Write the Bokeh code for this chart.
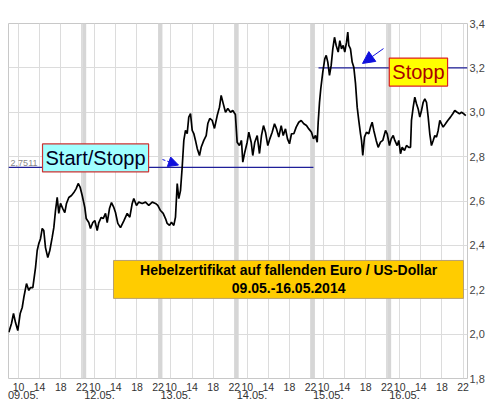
from bokeh.plotting import figure
from bokeh.models import (FixedTicker, Span, Label, Arrow, NormalHead, LinearAxis,
                          ColumnDataSource, Range1d)
from bokeh.embed import file_html
from bokeh.resources import INLINE

# ---- data (time axis: trading hours since 09.05. ~08:00, one day spans DAY units) ----
day_labels = ["09.05.", "12.05.", "13.05.", "14.05.", "15.05.", "16.05."]
hour_ticks = [10, 14, 18, 22]
y_ticks = [1.8, 2.0, 2.2, 2.4, 2.6, 2.8, 3.0, 3.2, 3.4]
y_tick_labels = ["1,8", "2,0", "2,2", "2,4", "2,6", "2,8", "3,0", "3,2", "3,4"]

t_hours = [0.06, 0.57, 0.95, 1.33, 1.76, 2.22, 2.60, 2.90, 3.41, 3.85, 4.17, 4.61, 5.12, 5.44,
           5.74, 6.07, 6.39, 6.69, 7.01, 7.45, 7.83, 8.28, 8.59, 8.91, 9.23, 9.53, 9.86, 10.29,
           10.67, 10.99, 11.43, 11.94, 12.38, 12.83, 13.21, 13.59, 13.97, 14.46, 14.73, 15.22,
           15.54, 15.98, 16.36, 16.81, 17.12, 17.57, 17.95, 18.39, 18.71, 19.14, 19.52, 19.96,
           20.28, 20.72, 21.23, 21.86, 22.50, 22.99, 23.45, 23.75, 24.26, 24.70, 25.34, 25.97,
           26.59, 27.24, 27.86, 28.30, 28.81, 29.32, 29.76, 30.08, 30.52, 30.89, 31.33, 31.65,
           31.98, 32.28, 32.60, 32.92, 33.23, 33.55, 33.87, 34.17, 34.50, 34.82, 35.12, 35.44,
           35.77, 36.20, 36.52, 37.02, 37.47, 37.78, 38.15, 38.61, 39.04, 39.56, 39.99, 40.31,
           40.69, 41.13, 41.57, 42.08, 42.51, 43.00, 43.34, 43.77, 44.16, 44.41, 44.79, 45.24,
           45.55, 46.00, 46.30, 46.68, 47.14, 47.57, 47.95, 48.33, 48.71, 49.15, 49.53, 49.98,
           50.42, 50.80, 51.23, 51.69, 52.07, 52.50, 52.88, 53.26, 53.64, 54.08, 54.53, 55.02,
           55.48, 55.97, 56.48, 56.92, 57.43, 57.81, 58.19, 58.51, 58.70, 58.95, 59.19, 59.57,
           59.95, 60.22, 60.52, 60.84, 61.16, 61.47, 61.79, 62.11, 62.49, 62.80, 63.12, 63.44,
           63.74, 64.07, 64.31, 64.50, 64.82, 65.14, 65.45, 65.77, 66.09, 66.39, 66.72, 66.91,
           67.15, 67.47, 67.85, 68.29, 68.61, 68.93, 69.24, 69.69, 70.07, 70.51, 70.94, 71.46,
           71.78, 72.21, 72.54, 72.92, 73.22, 73.67, 73.98, 74.30, 74.62, 75.06, 75.44, 75.87,
           76.20, 76.38, 76.71, 77.01, 77.33, 77.65, 77.96, 78.28, 78.60, 78.91, 79.23, 79.55,
           79.85, 80.17, 80.50, 80.80, 81.12, 81.44, 81.75, 82.07, 82.39, 82.83, 83.26, 83.77,
           84.21, 84.59, 85.04, 85.48, 85.86, 86.30, 86.68]

price = [2.009, 2.048, 2.093, 2.052, 2.016, 2.093, 2.120, 2.165, 2.228, 2.197, 2.210, 2.210, 2.300,
         2.377, 2.408, 2.430, 2.476, 2.467, 2.390, 2.345, 2.377, 2.436, 2.480, 2.557, 2.616, 2.544,
         2.589, 2.566, 2.548, 2.589, 2.616, 2.625, 2.638, 2.656, 2.679, 2.661, 2.625, 2.571, 2.521,
         2.503, 2.476, 2.503, 2.512, 2.467, 2.503, 2.526, 2.521, 2.544, 2.503, 2.566, 2.593, 2.571,
         2.548, 2.499, 2.480, 2.510, 2.544, 2.527, 2.589, 2.611, 2.580, 2.595, 2.589, 2.595, 2.580,
         2.595, 2.589, 2.580, 2.557, 2.544, 2.521, 2.499, 2.490, 2.504, 2.490, 2.527, 2.679, 2.611,
         2.647, 2.752, 2.873, 2.918, 2.904, 2.978, 2.994, 2.918, 2.904, 2.873, 2.837, 2.805, 2.842,
         2.873, 2.895, 2.949, 2.972, 2.963, 2.927, 2.985, 3.023, 3.076, 3.040, 3.000, 3.017, 3.000,
         3.008, 2.990, 2.865, 2.850, 2.873, 2.775, 2.820, 2.865, 2.910, 2.865, 2.805, 2.865, 2.895,
         2.814, 2.895, 2.940, 2.910, 2.850, 2.880, 2.910, 2.948, 2.925, 2.888, 2.940, 2.895, 2.925,
         2.880, 2.858, 2.903, 2.903, 2.933, 2.955, 2.963, 2.948, 2.940, 2.925, 2.910, 2.880, 2.895,
         2.865, 2.955, 3.045, 3.106, 3.181, 3.241, 3.256, 3.226, 3.166, 3.211, 3.286, 3.338, 3.301,
         3.271, 3.323, 3.286, 3.301, 3.271, 3.316, 3.361, 3.301, 3.286, 3.226, 3.203, 3.130, 3.023,
         2.963, 2.903, 2.873, 2.805, 2.888, 2.910, 2.903, 2.933, 2.955, 2.918, 2.873, 2.842, 2.865,
         2.873, 2.918, 2.903, 2.850, 2.880, 2.895, 2.873, 2.850, 2.873, 2.813, 2.842, 2.828, 2.850,
         2.842, 2.842, 2.963, 3.023, 3.068, 3.038, 3.015, 2.978, 3.008, 3.045, 3.060, 3.045, 2.978,
         2.903, 2.850, 2.873, 2.895, 2.888, 2.918, 2.963, 2.948, 2.933, 2.948, 2.963, 2.978, 2.993,
         3.008, 3.000, 2.993, 3.000, 2.993, 2.985]

start_stop_level = 2.7511
start_stop_label = "2,7511"
stop_level = 3.2
start_stop_until = 57.8
stop_from = 58.76

title_lines = ["Hebelzertifikat auf fallenden Euro / US-Dollar", "09.05.-16.05.2014"]

DAY = 14.45
DAY_START_HOUR = 8.1
X_END = 87.0
FONT = "Liberation Sans"

tick_pos = []
tick_over = {}
for d in range(len(day_labels)):
    for h in hour_ticks:
        t = d * DAY + (h - DAY_START_HOUR)
        tick_pos.append(t)
        tick_over[t] = str(h)

date_pos = [d * DAY + (10 - DAY_START_HOUR) + 0.9 for d in range(len(day_labels))]
date_over = {t: lab for t, lab in zip(date_pos, day_labels)}

p = figure(width=491, height=407, output_backend="svg", toolbar_location=None,
           x_range=Range1d(0, X_END), y_range=Range1d(1.8, 3.4),
           y_axis_location="right", min_border_left=8, min_border_top=23,
           min_border_right=24, min_border_bottom=29)
p.background_fill_color = "white"
p.border_fill_color = "white"
p.outline_line_color = "#c8c8c8"

def style_axis(ax, standoff, color, size):
    ax.axis_line_color = None
    ax.major_tick_line_color = None
    ax.minor_tick_line_color = None
    ax.major_tick_out = 0
    ax.major_tick_in = 0
    ax.minor_tick_out = 0
    ax.minor_tick_in = 0
    ax.major_label_standoff = standoff
    ax.major_label_text_font = FONT
    ax.major_label_text_font_size = size
    ax.major_label_text_color = color

# x axis: hours
p.xaxis.ticker = FixedTicker(ticks=tick_pos)
p.xaxis.major_label_overrides = tick_over
style_axis(p.xaxis[0], 4, "#333333", "10.5px")

# second x axis: dates
date_axis = LinearAxis(ticker=FixedTicker(ticks=date_pos), major_label_overrides=date_over)
style_axis(date_axis, -3, "#333333", "11px")
p.add_layout(date_axis, "below")

# y axis (right)
p.yaxis.ticker = FixedTicker(ticks=y_ticks)
p.yaxis.major_label_overrides = {v: s for v, s in zip(y_ticks, y_tick_labels)}
style_axis(p.yaxis[0], 2, "#444444", "11px")

p.xgrid.grid_line_color = "#dcdcdc"
p.ygrid.grid_line_color = "#dcdcdc"

# day separators
for d in range(1, len(day_labels)):
    p.add_layout(Span(location=d * DAY - 0.1, dimension="height",
                      line_color="#d6d6d6", line_width=4, level="underlay"))

# level lines
p.line(x=[0, start_stop_until], y=[start_stop_level, start_stop_level],
       line_color="#1f1f99", line_width=1.2)
p.line(x=[stop_from, X_END], y=[stop_level, stop_level], line_color="#1f1f99", line_width=1.2)

# price line
src = ColumnDataSource(dict(t=t_hours, v=price))
p.line("t", "v", source=src, line_color="black", line_width=1.7)

# title box
p.quad(left=[19.9], right=[86.24], bottom=[2.161], top=[2.332],
       fill_color="#ffcc00", line_color="#b8a070", line_width=1)
p.add_layout(Label(x=53.1, y=2.287, text=title_lines[0],
                   text_align="center", text_baseline="middle", text_font=FONT,
                   text_font_size="14px", text_font_style="bold", text_color="black"))
p.add_layout(Label(x=53.1, y=2.210, text=title_lines[1],
                   text_align="center", text_baseline="middle", text_font=FONT,
                   text_font_size="14px", text_font_style="bold", text_color="black"))

p.add_layout(Label(x=0.4, y=start_stop_level + 0.006, text=start_stop_label,
                   text_align="left", text_baseline="bottom", text_font=FONT,
                   text_font_size="9px", text_color="#888888"))

# annotation boxes
p.add_layout(Label(x=16.5, y=2.794, text="Start/Stopp", text_align="center",
                   text_baseline="middle", text_font=FONT, text_font_size="20px",
                   text_color="#000022", background_fill_color="#a0ffff",
                   border_line_color="#cc3333", border_line_width=1.2, padding=3))
p.add_layout(Label(x=77.7, y=3.181, text="Stopp", text_align="center",
                   text_baseline="middle", text_font=FONT, text_font_size="20px",
                   text_color="#aa0000", background_fill_color="#ffff00",
                   border_line_color="#dd2222", border_line_width=1.2, padding=3))

# arrows
p.add_layout(Arrow(end=NormalHead(size=10, fill_color="#1010dd", line_color="#1010dd"),
                   x_start=29.19, y_start=2.787, x_end=32.22, y_end=2.762,
                   line_color="#1010dd", line_width=1, line_dash="3 2"))
p.add_layout(Arrow(end=NormalHead(size=12, fill_color="#1010dd", line_color="#1010dd"),
                   x_start=71.08, y_start=3.287, x_end=67.1, y_end=3.22,
                   line_color="#1010dd", line_width=1))

open("out.html", "w").write(file_html(p, INLINE))
